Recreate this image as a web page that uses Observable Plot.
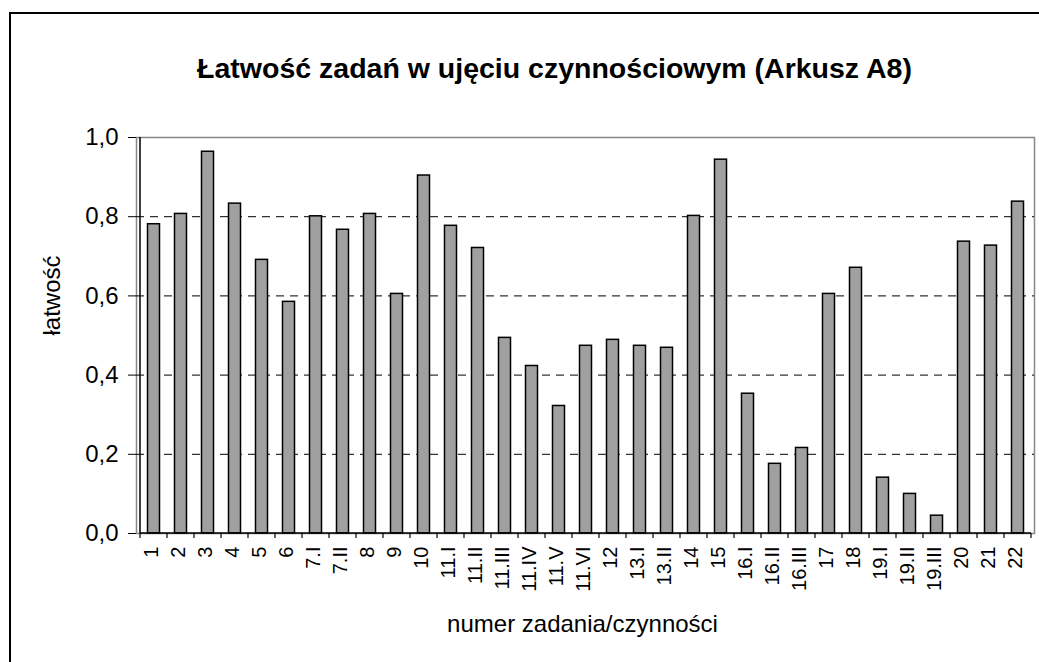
<!DOCTYPE html>
<html><head><meta charset="utf-8">
<script src="https://cdn.jsdelivr.net/npm/d3@7"></script>
<script src="https://cdn.jsdelivr.net/npm/@observablehq/plot@0.6"></script>
<style>
body{margin:0;background:#fff;overflow:hidden}
#wrap{position:relative;width:1039px;height:662px;overflow:hidden;background:#fff}
#wrap svg{position:absolute;left:0;top:0}
#border{position:absolute;left:9px;top:12px;width:1100px;height:700px;border:2px solid #000;pointer-events:none}
</style></head><body><div id="wrap"><div id="border"></div></div>
<script>
const categories = ["1","2","3","4","5","6","7.I","7.II","8","9","10","11.I","11.II","11.III","11.IV","11.V","11.VI","12","13.I","13.II","14","15","16.I","16.II","16.III","17","18","19.I","19.II","19.III","20","21","22"];
const values = [0.781,0.807,0.964,0.833,0.691,0.585,0.801,0.767,0.807,0.605,0.904,0.777,0.721,0.494,0.423,0.322,0.474,0.489,0.474,0.469,0.802,0.944,0.353,0.176,0.216,0.605,0.671,0.141,0.100,0.045,0.737,0.727,0.838];
const yTicks = [0, 0.2, 0.4, 0.6, 0.8, 1.0];
const gridValues = [0.2, 0.4, 0.6, 0.8];
const title = "Łatwość zadań w ujęciu czynnościowym (Arkusz A8)";
const xLabel = "numer zadania/czynności";
const yLabel = "łatwość";

const data = categories.map((c, i) => ({task: c, value: values[i]}));
const fmt = v => d3.format(".1f")(v).replace(".", ",");

function axisLines(index, {x, y}) {
  const g = d3.create("svg:g");
  const step = x(categories[1]) - x(categories[0]);
  const y0 = y(0);
  const edges = categories.map(c => x(c)).concat([x(categories[categories.length - 1]) + step]);
  g.selectAll("line.t").data(edges).join("line").attr("class", "t")
    .attr("x1", d => d).attr("x2", d => d).attr("y1", y0).attr("y2", y0 + 5)
    .attr("stroke", "#000").attr("stroke-width", 1.2);
  g.append("line").attr("x1", edges[0]).attr("x2", edges[0]).attr("y1", y(1)).attr("y2", y0)
    .attr("stroke", "#000").attr("stroke-width", 1.5);
  g.append("line").attr("x1", edges[0]).attr("x2", edges[edges.length - 1]).attr("y1", y0).attr("y2", y0)
    .attr("stroke", "#000").attr("stroke-width", 1.5);
  return g.node();
}

const chart = Plot.plot({
  width: 1039,
  height: 662,
  marginLeft: 136,
  marginRight: 5,
  marginTop: 137,
  marginBottom: 129,
  style: {fontFamily: "'Liberation Sans', Arial, sans-serif", background: "transparent", color: "#000"},
  x: {domain: categories, padding: 0, axis: null},
  y: {domain: [0, 1], axis: null},
  marks: [
    Plot.frame({stroke: "#888", strokeWidth: 1.5}),
    Plot.ruleY(gridValues, {stroke: "#000", strokeWidth: 1, strokeDasharray: "8,6"}),
    Plot.barY(data, {x: "task", y: "value", fill: "#a0a0a0", stroke: "#000", strokeWidth: 1.5, insetLeft: 7.5, insetRight: 7.5}),
    axisLines,
    Plot.axisY({ticks: yTicks, tickFormat: fmt, tickSize: 8, tickPadding: 10, fontSize: 24, label: null, anchor: "left"}),
    Plot.text(categories, {x: d => d, text: d => d, frameAnchor: "bottom", lineAnchor: "middle", rotate: -90, textAnchor: "end", dy: 13, dx: -2, fontSize: 20}),
    Plot.text([title], {text: d => d, frameAnchor: "top", lineAnchor: "middle", dy: -69, dx: -31, fontSize: 28.5, fontWeight: "bold"}),
    Plot.text([xLabel], {text: d => d, frameAnchor: "bottom", lineAnchor: "middle", dy: 91, dx: -3, fontSize: 24}),
    Plot.text([yLabel], {text: d => d, frameAnchor: "left", lineAnchor: "middle", rotate: -90, dx: -84, fontSize: 24})
  ]
});
document.getElementById("wrap").insertBefore(chart, document.getElementById("border"));
</script>
</body></html>
